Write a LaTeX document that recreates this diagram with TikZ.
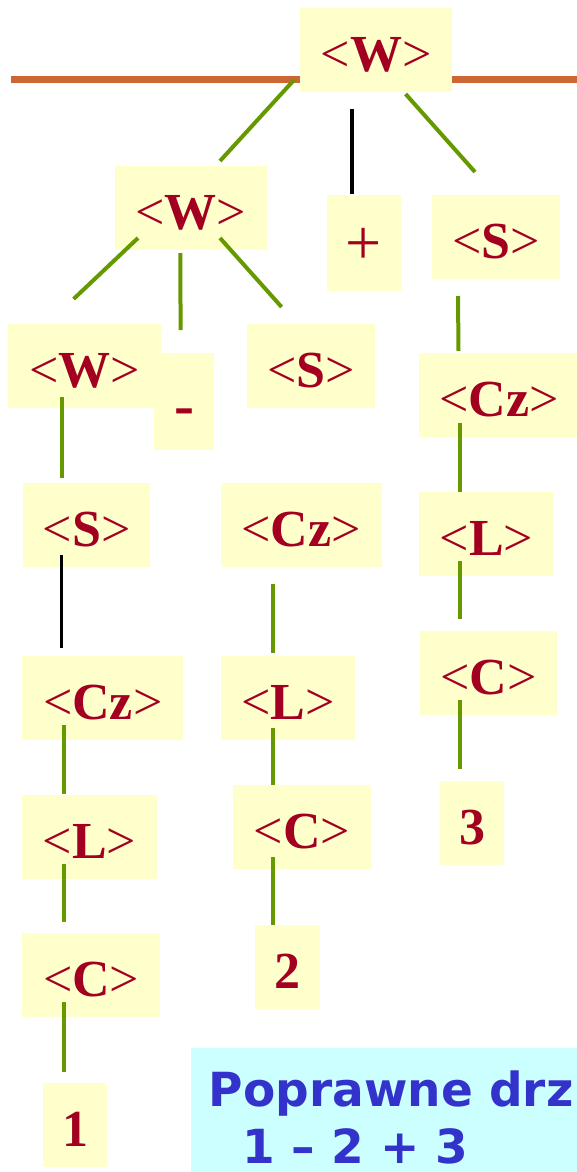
\documentclass[tikz,border=0pt]{standalone}
\usepackage{fontspec}
\setmainfont{Liberation Serif}
\newfontfamily\notefont{DejaVu Sans}
\definecolor{txtred}{RGB}{163,0,33}
\definecolor{boxfill}{RGB}{255,255,204}
\definecolor{lgreen}{RGB}{102,153,0}
\definecolor{orangeln}{RGB}{204,102,51}
\definecolor{notefill}{RGB}{204,255,255}
\definecolor{noteblue}{RGB}{51,51,204}
\newcommand{\ntm}[1]{<\textbf{#1}>}
\tikzset{
  box/.style={fill=boxfill, inner sep=0pt, text=txtred,
    font=\fontsize{52}{52}\selectfont, minimum height=84pt,
    text height=63.5pt, text depth=20.5pt, align=center},
  link/.style={draw=lgreen, line width=4pt},
  blink/.style={draw=black, line width=3.5pt},
  notetext/.style={inner sep=0pt, anchor=base west, text=noteblue,
    font=\notefont\bfseries\fontsize{47}{47}\selectfont},
}
\begin{document}
\begin{tikzpicture}[x=1pt,y=-1pt]
\clip (0,0) rectangle (577,1172);
% orange rule
\draw[orangeln, line width=7pt] (11,79.5) -- (590,79.5);
% boxes
\node[box, minimum width=152pt] (tW) at (376,50) {\ntm{W}};
\node[box, minimum width=152pt] (W2) at (190.5,208) {\ntm{W}};
\node[box, font=\fontsize{64}{64}\selectfont, minimum width=74pt, minimum height=96pt, text height=69pt, text depth=27pt] (plus) at (364,243) {+};
\node[box, minimum width=128.5pt] (Sr) at (496,237) {\ntm{S}};
\node[box, minimum width=153pt] (W3) at (84.5,366) {\ntm{W}};
\node[box, font=\fontsize{60}{60}\selectfont, minimum width=60pt, minimum height=97pt, text height=72pt, text depth=25pt] (minus) at (184,401.5) {\textbf{-}};
\node[box, minimum width=128.5pt] (Sm) at (311,366) {\ntm{S}};
\node[box, minimum width=160pt] (Czr) at (499,395) {\ntm{Cz}};
\node[box, minimum width=127.5pt] (Sl) at (86.7,525) {\ntm{S}};
\node[box, minimum width=160.7pt] (Czm) at (301.3,525) {\ntm{Cz}};
\node[box, minimum width=135pt] (Lr) at (486.5,534) {\ntm{L}};
\node[box, minimum width=137.4pt] (Cr) at (488.3,673) {\ntm{C}};
\node[box, minimum width=64pt] (n3) at (472,823) {\textbf{3}};
\node[box, minimum width=161.3pt] (Czl) at (102.7,698) {\ntm{Cz}};
\node[box, minimum width=134.5pt] (Lm) at (288.2,698) {\ntm{L}};
\node[box, minimum width=134.3pt] (Ll) at (89.6,836.5) {\ntm{L}};
\node[box, minimum width=137.6pt] (Cm) at (301.8,827) {\ntm{C}};
\node[box, minimum width=137.5pt] (Cl) at (91.2,975) {\ntm{C}};
\node[box, minimum width=64.8pt] (n2) at (287.1,967) {\textbf{2}};
\node[box, minimum width=64.5pt] (n1) at (75.2,1125) {\textbf{1}};
% connector end points
\coordinate (a1) at (294,80);   \coordinate (b1) at (220,161);
\coordinate (a2) at (352,109);  \coordinate (b2) at (352,194);
\coordinate (a3) at (405.6,94); \coordinate (b3) at (475,172);
\coordinate (a4) at (138,238);  \coordinate (b4) at (73.6,299);
\coordinate (a5) at (180.3,253);\coordinate (b5) at (180.6,330);
\coordinate (a6) at (220,238);  \coordinate (b6) at (281.6,307);
\coordinate (a7) at (458,296);  \coordinate (b7) at (458.5,351);
\coordinate (a8) at (61.5,397); \coordinate (b8) at (61.5,478);
\coordinate (a9) at (460,423);  \coordinate (b9) at (460,492);
\coordinate (a10) at (460,561); \coordinate (b10) at (460,619);
\coordinate (a11) at (61.5,555);\coordinate (b11) at (61.5,648);
\coordinate (a12) at (272.7,584);\coordinate (b12) at (272.7,653);
\coordinate (a13) at (460,700); \coordinate (b13) at (460,769);
\coordinate (a14) at (63.7,725);\coordinate (b14) at (63.7,794);
\coordinate (a15) at (272.7,728);\coordinate (b15) at (272.7,785);
\coordinate (a16) at (63.7,864);\coordinate (b16) at (63.7,922);
\coordinate (a17) at (272.7,857);\coordinate (b17) at (272.7,925);
\coordinate (a18) at (63.7,1002);\coordinate (b18) at (63.7,1072);
% connectors
\draw[link] (a1) -- (b1);
\draw[blink] (a2) -- (b2);
\draw[link] (a3) -- (b3);
\draw[link] (a4) -- (b4);
\draw[link] (a5) -- (b5);
\draw[link] (a6) -- (b6);
\draw[link] (a7) -- (b7);
\draw[link] (a8) -- (b8);
\draw[link] (a9) -- (b9);
\draw[link] (a10) -- (b10);
\draw[blink] (a11) -- (b11);
\draw[link] (a12) -- (b12);
\draw[link] (a13) -- (b13);
\draw[link] (a14) -- (b14);
\draw[link] (a15) -- (b15);
\draw[link] (a16) -- (b16);
\draw[link] (a17) -- (b17);
\draw[link] (a18) -- (b18);
% note
\node[fill=notefill, inner sep=0pt, minimum width=420pt, minimum height=140pt, anchor=north west] (note) at (191,1048) {};
\node[notetext] (line1) at (208.7,1106.3) {Poprawne drz};
\node[notetext] (line2) at (242,1163) {1 – 2 + 3};
\end{tikzpicture}
\end{document}
